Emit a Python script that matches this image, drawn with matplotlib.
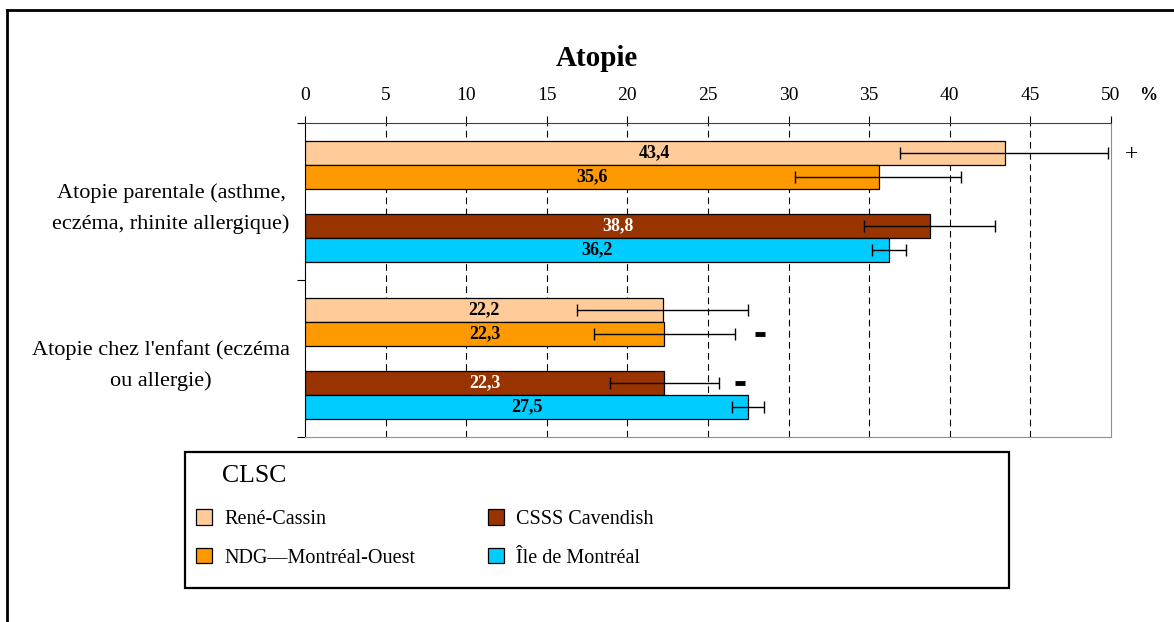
import matplotlib
matplotlib.use('Agg')
from matplotlib import pyplot as plt
from matplotlib.lines import Line2D
from matplotlib.patches import Rectangle
import numpy as np

plt.rcParams['font.family'] = ['Liberation Serif', 'DejaVu Serif']

categories = ['Atopie parentale (asthme,\neczéma, rhinite allergique)',
              "Atopie chez l'enfant (eczéma\nou allergie)"]
series = ['René-Cassin', 'NDG—Montréal-Ouest', 'CSSS Cavendish', 'Île de Montréal']
colors = ['#FFCC99', '#FF9900', '#993300', '#00CCFF']
label_colors = ['black', 'black', 'white', 'black']

# values per series: [parental, enfant]
values = [[43.4, 22.2], [35.6, 22.3], [38.8, 22.3], [36.2, 27.5]]
ci_low = [[36.9, 16.9], [30.4, 17.9], [34.7, 18.9], [35.2, 26.5]]
ci_high = [[49.8, 27.5], [40.7, 26.7], [42.8, 25.7], [37.3, 28.5]]
# signes de comparaison (x, texte) ; None = rien
signs = [[(51.3, '+'), None], [None, (28.2, '-')], [None, (27.0, '-')], [None, None]]
xticks = [0, 5, 10, 15, 20, 25, 30, 35, 40, 45, 50]

fig = plt.figure(figsize=(11.74, 6.22), dpi=100)
ax = fig.add_axes([305/1174, 1-437/622, 806/1174, 314/622])

h = 0.155
offsets = [-2*h, -h, h, 2*h]
ycent = np.arange(len(categories)) + 0.5

for i, s in enumerate(series):
    y = ycent + offsets[i]
    v = np.array(values[i])
    xerr = [v - np.array(ci_low[i]), np.array(ci_high[i]) - v]
    ax.barh(y, v, height=h, color=colors[i], edgecolor='black', linewidth=0.9,
            label=s, zorder=3)
    ax.errorbar(v, y, xerr=xerr, fmt='none', ecolor='black', elinewidth=1,
                capsize=4, capthick=1, zorder=4)
    for j in range(len(categories)):
        ax.text(v[j]/2, y[j], f'{v[j]:.1f}'.replace('.', ','), ha='center', va='center',
                fontsize=13, fontweight='bold', color=label_colors[i], zorder=5)
        if signs[i][j] is not None:
            sx, st = signs[i][j]
            if st == '+':
                ax.text(sx, y[j] + 0.01, st, ha='center', va='center', fontsize=17, zorder=5)
            else:
                ax.plot([sx], [y[j]], marker='_', markersize=7, markeredgewidth=3.5,
                        color='black', zorder=5, clip_on=False)

ax.set_xlim(0, 50)
ax.set_ylim(2, 0)
ax.xaxis.tick_top()
ax.set_xticks(xticks)
ax.tick_params(axis='x', direction='out', length=5, pad=9, labelsize=14)
ax.set_yticks([0, 1, 2])
ax.set_yticklabels([])
ax.tick_params(axis='y', which='major', direction='out', length=6)
ax.set_yticks(ycent - 0.008, minor=True)
ax.set_yticklabels(categories, minor=True, multialignment='center', fontsize=16,
                   linespacing=1.75)
ax.tick_params(axis='y', which='minor', length=0, pad=11)
for x in xticks[1:-1]:
    ax.axvline(x, color='black', linewidth=0.8, linestyle=(0, (6, 4)), zorder=1)

ax.spines['left'].set_color('black')
ax.spines['top'].set_color('#404040')
ax.spines['right'].set_color('#909090')
ax.spines['bottom'].set_color('#909090')

fig.text(597/1174, 1-58/622, 'Atopie', ha='center', va='center', fontsize=21,
         fontweight='bold')
fig.text(1148/1174, 1-95/622, '%', ha='center', va='center', fontsize=13,
         fontweight='bold')

# légende : cadre dessiné à part
fig.add_artist(Rectangle((185/1174, 1-588/622), 824/1174, 136/622, facecolor='white',
                         edgecolor='black', linewidth=1.6, transform=fig.transFigure,
                         zorder=0))
fig.text(222/1174, 1-476/622, 'CLSC', ha='left', va='center', fontsize=18.5)
leg = fig.legend(loc='upper left', bbox_to_anchor=(176/1174, 1-489/622), ncol=2,
                 fontsize=14.5, frameon=False, handlelength=0.8, handleheight=0.8,
                 handletextpad=0.6, borderpad=0.5, labelspacing=0.95, columnspacing=3.6)

# cadre extérieur
fig.add_artist(Line2D([7/1174, 7/1174], [0, 1-10/622], color='black', linewidth=2,
                      transform=fig.transFigure))
fig.add_artist(Line2D([7/1174, 1], [1-10/622, 1-10/622], color='black', linewidth=2,
                      transform=fig.transFigure))

fig.savefig('out.png', dpi=100)
